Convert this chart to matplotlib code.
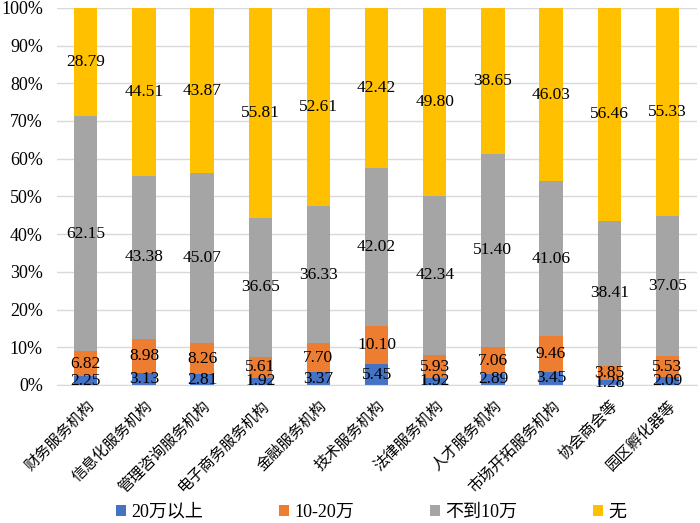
import numpy as np
import matplotlib
matplotlib.use("Agg")
import matplotlib.pyplot as plt
from matplotlib.ticker import FuncFormatter

plt.rcParams['font.family'] = ['Liberation Serif', 'Noto Sans CJK SC', 'DejaVu Sans']

categories = ["财务服务机构", "信息化服务机构", "管理咨询服务机构", "电子商务服务机构",
              "金融服务机构", "技术服务机构", "法律服务机构", "人才服务机构",
              "市场开拓服务机构", "协会商会等", "园区孵化器等"]
over_20w = [2.25, 3.13, 2.81, 1.92, 3.37, 5.45, 1.92, 2.89, 3.45, 1.28, 2.09]
w10_20 = [6.82, 8.98, 8.26, 5.61, 7.70, 10.10, 5.93, 7.06, 9.46, 3.85, 5.53]
under_10w = [62.15, 43.38, 45.07, 36.65, 36.33, 42.02, 42.34, 51.40, 41.06, 38.41, 37.05]
none = [28.79, 44.51, 43.87, 55.81, 52.61, 42.42, 49.80, 38.65, 46.03, 56.46, 55.33]

series = [("20万以上", over_20w, "#4472C4"),
          ("10-20万", w10_20, "#ED7D31"),
          ("不到10万", under_10w, "#A5A5A5"),
          ("无", none, "#FFC000")]

fig = plt.figure(figsize=(7, 5.23), dpi=100)
ax = fig.add_axes([0.081, 0.264, 0.914, 0.721])

x = np.arange(len(categories))
bottom = np.zeros(len(categories))
for name, vals, color in series:
    vals = np.array(vals)
    ax.bar(x, vals, width=0.40, bottom=bottom, color=color, label=name, zorder=2)
    for xi, b, v in zip(x, bottom, vals):
        ax.text(xi, b + v / 2, f"{v:.2f}", ha="center", va="center",
                fontsize=12.5, color="black", zorder=3)
    bottom += vals

ax.set_xlim(-0.5, len(categories) - 0.5)
ax.set_ylim(0, 100)
ax.set_yticks(np.arange(0, 101, 10))
ax.yaxis.set_major_formatter(FuncFormatter(lambda v, _: f"{v:.0f}%"))
ax.grid(axis="y", color="#D9D9D9", lw=1, zorder=0)
ax.set_xticks(x)
ax.set_xticklabels(categories, rotation=45, ha="right", rotation_mode="anchor",
                   fontsize=11, family=['Noto Sans CJK SC'])
ax.tick_params(axis="both", length=0)
ax.tick_params(axis="y", labelsize=13, pad=10)
ax.tick_params(axis="x", pad=9)
for s in ["top", "right", "left"]:
    ax.spines[s].set_visible(False)
ax.spines["bottom"].set_color("#D9D9D9")

fig.legend(loc="center", bbox_to_anchor=(0.53, 0.021), ncol=4, frameon=False,
           fontsize=13, handlelength=0.55, handleheight=0.55, handletextpad=0.3,
           columnspacing=4.2)

fig.savefig("out.png", dpi=100)
